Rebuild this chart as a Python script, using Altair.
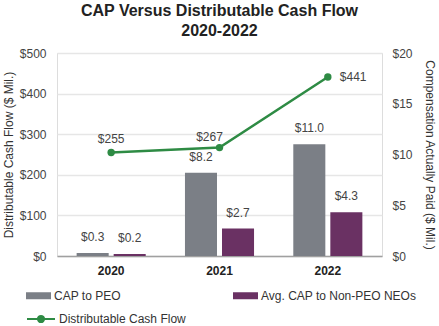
import altair as alt
import pandas as pd

years = ["2020", "2021", "2022"]
cap_peo = [0.3, 8.2, 11.0]
cap_non_peo = [0.2, 2.7, 4.3]
dcf = [255, 267, 441]
series_names = ["CAP to PEO", "Avg. CAP to Non-PEO NEOs"]
line_name = "Distributable Cash Flow"

FONT = "Liberation Sans"
GRAY = "#7b7f86"
PURPLE = "#6a3163"
GREEN = "#2e8b44"
TXT = "#444444"

bars_df = pd.DataFrame(
    [{"year": y, "series": series_names[0], "value": v} for y, v in zip(years, cap_peo)]
    + [{"year": y, "series": series_names[1], "value": v} for y, v in zip(years, cap_non_peo)]
)
line_df = pd.DataFrame({"year": years, "dcf": dcf, "series": [line_name] * len(years)})

x_enc = alt.X(
    "year:N",
    sort=years,
    scale=alt.Scale(paddingInner=0, paddingOuter=0),
    axis=alt.Axis(
        title=None, labelAngle=0, labelFontWeight="bold", labelFontSize=12,
        labelColor="#222", labelFont=FONT, ticks=False, domainColor="#a0a0a0",
        domainWidth=1.5, labelPadding=9, grid=False,
    ),
)
xoff = alt.XOffset("series:N", sort=series_names,
                   scale=alt.Scale(paddingInner=0.135, paddingOuter=0.53))

y_right = alt.Y(
    "value:Q",
    scale=alt.Scale(domain=[0, 20]),
    axis=alt.Axis(
        orient="right", values=[0, 5, 10, 15, 20], labelExpr="'$' + datum.value",
        title="Compensation Actually Paid ($ Mil.)", titleFontWeight="normal",
        titleFontSize=12, titleColor="#333", titleFont=FONT, titlePadding=10,
        labelFont=FONT, labelFontSize=12, labelColor=TXT, labelPadding=10,
        ticks=False, domain=False, grid=False,
    ),
)

bars = alt.Chart(bars_df).mark_bar(stroke=None).encode(
    x=x_enc,
    xOffset=xoff,
    y=y_right,
    color=alt.Color(
        "series:N",
        sort=series_names,
        scale=alt.Scale(domain=series_names, range=[GRAY, PURPLE]),
        legend=alt.Legend(
            title=None, orient="none", legendX=-31, legendY=230, columns=2,
            columnPadding=112, symbolType="M-1,-0.28H1V0.28H-1Z", symbolSize=625,
            symbolStrokeWidth=0, labelFont=FONT, labelFontSize=12, labelColor="#333",
            labelOffset=3, padding=0,
        ),
    ),
)
bar_text = alt.Chart(bars_df).mark_text(
    dy=-9, font=FONT, fontSize=12, color=TXT, baseline="bottom"
).transform_calculate(lbl="'$' + format(datum.value, '.1f')").encode(
    x=alt.X("year:N", sort=years),
    xOffset=xoff,
    y=alt.Y("value:Q"),
    text="lbl:N",
)
bar_layer = alt.layer(bars, bar_text)

y_left = alt.Y(
    "dcf:Q",
    scale=alt.Scale(domain=[0, 500]),
    axis=alt.Axis(
        orient="left", values=[0, 100, 200, 300, 400, 500], labelExpr="'$' + datum.value",
        title="Distributable Cash Flow ($ Mil.)", titleFontWeight="normal",
        titleFontSize=12, titleColor="#333", titleFont=FONT, titlePadding=4,
        labelFont=FONT, labelFontSize=12, labelColor=TXT, labelPadding=11,
        ticks=False, domain=False, grid=True, gridColor="#e6e6e6", gridWidth=1.5,
    ),
)

line_symbol = "M-1,0H-0.22M0.22,0H1M-0.22,0A0.22,0.22 0 1,1 0.22,0A0.22,0.22 0 1,1 -0.22,0Z"
line = alt.Chart(line_df).mark_line(strokeWidth=2.5, color=GREEN).encode(
    x=alt.X("year:N", sort=years),
    y=y_left,
    color=alt.Color(
        "series:N",
        scale=alt.Scale(domain=[line_name], range=[GREEN]),
        legend=alt.Legend(
            title=None, orient="none", legendX=-31, legendY=251, symbolType=line_symbol,
            symbolSize=784, symbolStrokeWidth=2, symbolFillColor=GREEN,
            symbolStrokeColor=GREEN, labelFont=FONT, labelFontSize=12,
            labelColor="#333", labelOffset=3, padding=0,
        ),
    ),
)
points = alt.Chart(line_df).mark_point(filled=True, size=55, color=GREEN, opacity=1).encode(
    x=alt.X("year:N", sort=years),
    y=alt.Y("dcf:Q"),
)
lbl_base = alt.Chart(line_df).transform_calculate(lbl="'$' + datum.dcf")
t2020 = lbl_base.transform_filter("datum.year == '2020'").mark_text(
    dy=-13, font=FONT, fontSize=12, color=TXT
).encode(x=alt.X("year:N", sort=years), y=alt.Y("dcf:Q"), text="lbl:N")
t2021 = lbl_base.transform_filter("datum.year == '2021'").mark_text(
    dy=-11, dx=-10, font=FONT, fontSize=12, color=TXT
).encode(x=alt.X("year:N", sort=years), y=alt.Y("dcf:Q"), text="lbl:N")
t2022 = lbl_base.transform_filter("datum.year == '2022'").mark_text(
    dx=12, align="left", font=FONT, fontSize=12, color=TXT
).encode(x=alt.X("year:N", sort=years), y=alt.Y("dcf:Q"), text="lbl:N")
line_layer = alt.layer(line, points, t2020, t2021, t2022)

chart = alt.layer(bar_layer, line_layer).resolve_scale(
    y="independent", color="independent"
).properties(
    width=325,
    height=203,
    autosize=alt.AutoSizeParams(type="none"),
    padding={"left": 57, "top": 53, "right": 57, "bottom": 70},
    title=alt.TitleParams(
        text=["CAP Versus Distributable Cash Flow", "2020-2022"],
        font=FONT, fontSize=16, fontWeight="bold", color="#222",
        anchor="middle", lineHeight=20, offset=8,
    ),
).configure_view(stroke=None).configure(background="white")

chart.save("out.html", embed_options={"renderer": "svg", "actions": False})
